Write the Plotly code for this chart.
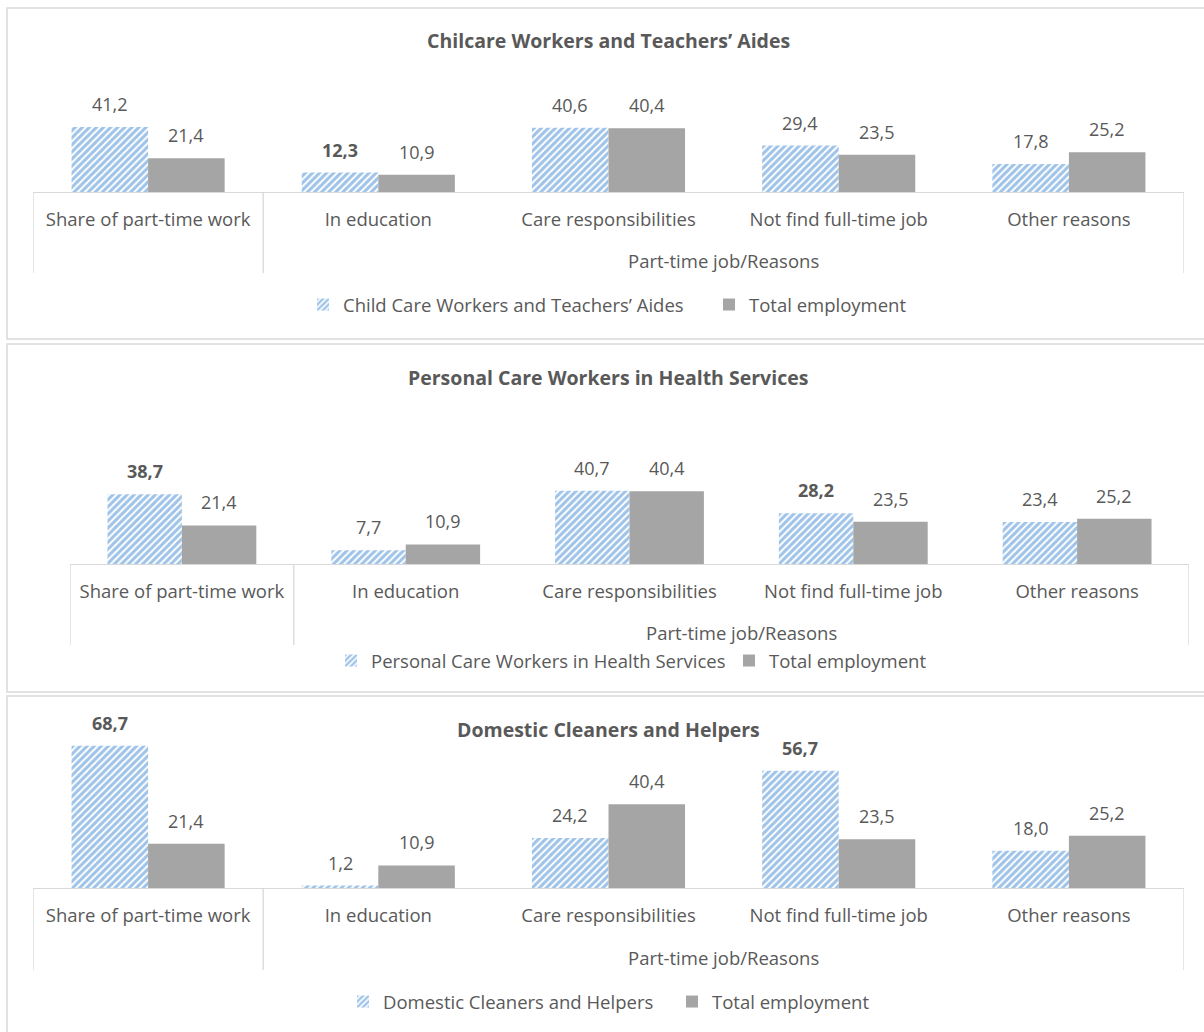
import plotly.graph_objects as go

# ---- data -------------------------------------------------------------
categories = ["Share of part-time work", "In education", "Care responsibilities",
              "Not find full-time job", "Other reasons"]
group_label = "Part-time job/Reasons"

total_employment = [21.4, 10.9, 40.4, 23.5, 25.2]
childcare = [41.2, 12.3, 40.6, 29.4, 17.8]
personal_care = [38.7, 7.7, 40.7, 28.2, 23.4]
domestic = [68.7, 1.2, 24.2, 56.7, 18.0]

titles = ["Chilcare Workers and Teachers\u2019 Aides",
          "Personal Care Workers in Health Services",
          "Domestic Cleaners and Helpers"]
series_names = ["Child Care Workers and Teachers\u2019 Aides",
                "Personal Care Workers in Health Services",
                "Domestic Cleaners and Helpers"]
total_name = "Total employment"

# values shown with bold labels
childcare_bold = [1]
personal_care_bold = [0, 3]
domestic_bold = [0, 3]

# ---- styling ----------------------------------------------------------
W, H = 1204, 1032
FONT = "Open Sans"
TEXT = "#595959"
BLUE = "#3F88D2"
GREY = "#A5A5A5"
LINE = "#D9D9D9"
LABEL_SIZE = 18.5
VALUE_SIZE = 18
TITLE_SIZE = 19.5
BARGAP = 0.335
HALF = (1 - BARGAP) / 4  # offset of each bar centre from its category centre


def px(x):
    return x / W


def py(y):
    return 1 - y / H


# pixel layout of each panel
panels = [
    dict(values=childcare, bold=childcare_bold, box=(8, 339), left=33, right=1184,
         base=192, ymax=50, scale=1.58, title_y=41, group_y=260, div_end=273,
         legend_x=303, legend_y=305, entry=361),
    dict(values=personal_care, bold=personal_care_bold, box=(344, 692), left=70, right=1189,
         base=564, ymax=50, scale=1.80, title_y=377, group_y=632, div_end=645,
         legend_x=331, legend_y=661, entry=353),
    dict(values=domestic, bold=domestic_bold, box=(696, 1045), left=33, right=1184,
         base=888, ymax=80, scale=2.07, title_y=729, group_y=957, div_end=970,
         legend_x=343, legend_y=1002, entry=284),
]


def fmt(v, bold):
    s = f"{v:.1f}".replace(".", ",")
    return f"<b>{s}</b>" if bold else s


fig = go.Figure()
shapes, annotations = [], []
layout = {}

for i, p in enumerate(panels):
    n = "" if i == 0 else str(i + 1)
    xa, ya = "x" + n, "y" + n
    leg = "legend" + n

    fig.add_trace(go.Bar(
        x=categories, y=p["values"], name=series_names[i], xaxis=xa, yaxis=ya,
        legend=leg,
        marker=dict(color="white", line=dict(width=0),
                    pattern=dict(shape="/", fgcolor=BLUE, bgcolor="white",
                                 size=5, solidity=0.6)),
        hoverinfo="x+y",
    ))
    fig.add_trace(go.Bar(
        x=categories, y=total_employment, name=total_name, xaxis=xa, yaxis=ya,
        legend=leg, marker=dict(color=GREY, line=dict(width=0)),
        hoverinfo="x+y",
    ))

    top = p["base"] - p["ymax"] * p["scale"]
    layout["xaxis" + n] = dict(
        domain=[px(p["left"]), px(p["right"])], anchor=ya, type="category",
        range=[-0.5, 4.5], showline=True, linecolor=LINE, linewidth=1.3,
        ticks="", showgrid=False, zeroline=False, fixedrange=True,
        tickfont=dict(family=FONT, size=LABEL_SIZE, color=TEXT), ticklabelstandoff=11,
    )
    layout["yaxis" + n] = dict(
        domain=[py(p["base"]), py(top)], anchor=xa, range=[0, p["ymax"]],
        visible=False, fixedrange=True,
    )
    layout[leg] = dict(
        orientation="h", x=px(p["legend_x"]), xanchor="left",
        y=py(p["legend_y"]), yanchor="middle", bgcolor="rgba(0,0,0,0)",
        font=dict(family=FONT, size=LABEL_SIZE, color=TEXT), traceorder="normal",
        itemwidth=30, entrywidth=p["entry"], entrywidthmode="pixels",
    )

    # panel frame
    shapes.append(dict(type="rect", xref="paper", yref="paper",
                       x0=px(7), x1=px(W + 10), y0=py(p["box"][1]), y1=py(p["box"][0]),
                       line=dict(color=LINE, width=1.5), fillcolor="rgba(0,0,0,0)",
                       layer="below"))
    # category group dividers
    for xv in (-0.5, 0.5, 4.5):
        shapes.append(dict(type="line", xref=xa, yref="paper", x0=xv, x1=xv,
                           y0=py(p["base"]), y1=py(p["div_end"]),
                           line=dict(color=LINE, width=1.3)))

    # title
    annotations.append(dict(text=f"<b>{titles[i]}</b>", xref="paper", yref="paper",
                            x=px(608), y=py(p["title_y"]), showarrow=False,
                            xanchor="center", yanchor="middle",
                            font=dict(family=FONT, size=TITLE_SIZE, color=TEXT)))
    # group label under the reason categories
    annotations.append(dict(text=group_label, xref=xa, yref="paper", x=2.5,
                            y=py(p["group_y"]), showarrow=False, xanchor="center",
                            yanchor="middle",
                            font=dict(family=FONT, size=LABEL_SIZE, color=TEXT)))
    # value labels
    for j, (v, t) in enumerate(zip(p["values"], total_employment)):
        for val, off, b in ((v, -HALF, j in p["bold"]), (t, HALF, False)):
            annotations.append(dict(text=fmt(val, b), xref=xa, yref=ya, x=j + off, y=val,
                                    showarrow=False, xanchor="center", yanchor="bottom",
                                    yshift=9,
                                    font=dict(family=FONT, size=VALUE_SIZE, color=TEXT)))

fig.update_layout(
    width=W, height=H, margin=dict(l=0, r=0, t=0, b=0),
    paper_bgcolor="white", plot_bgcolor="white",
    barmode="group", bargap=BARGAP, bargroupgap=0,
    shapes=shapes, annotations=annotations, showlegend=True,
    font=dict(family=FONT, color=TEXT),
    **layout,
)

fig.write_html("out.html")
